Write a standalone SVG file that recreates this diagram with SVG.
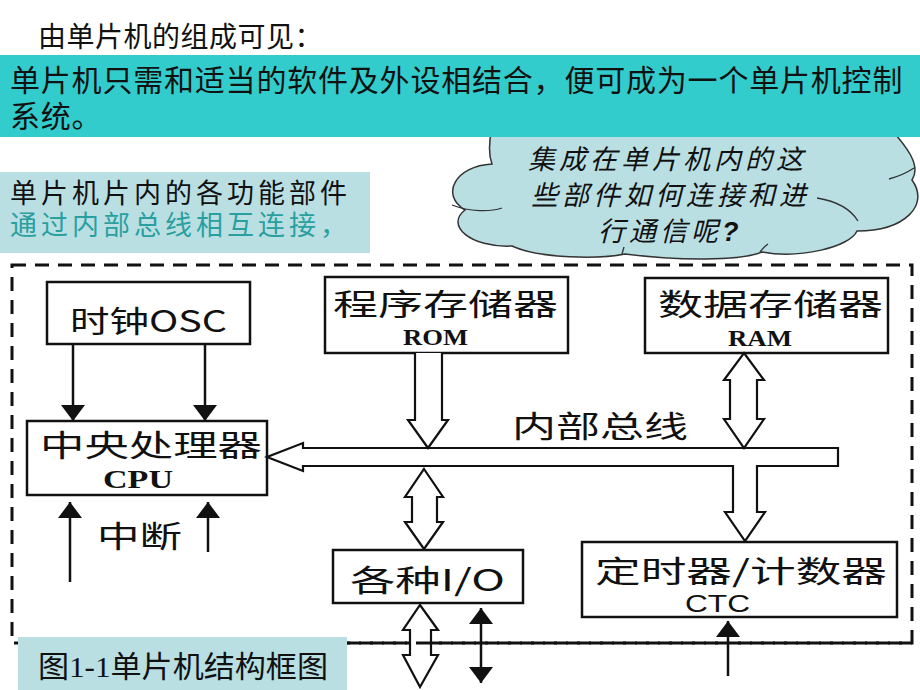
<svg xmlns="http://www.w3.org/2000/svg" width="920" height="690" viewBox="0 0 920 690">
<style>
.cn{font-family:"Noto Sans CJK SC","Noto Sans",sans-serif;fill:#111}
.lab{font-family:"Noto Sans CJK SC","Noto Sans",sans-serif;fill:#111;font-size:30px}
.ser{font-family:"Liberation Serif","Noto Sans CJK SC",serif;font-weight:bold;fill:#111}
.cap{font-family:"Liberation Serif","Noto Sans CJK SC",serif;font-weight:normal;fill:#111}
.box{fill:#fff;stroke:#111;stroke-width:2.5}
.ln{fill:none;stroke:#111;stroke-width:2.5}
.hol{fill:#fff;stroke:#111;stroke-width:2.2;stroke-linejoin:miter}
.pale{fill:#B9DFE3}
</style>
<defs>
<marker id="tri" viewBox="0 0 16 24" refX="16" refY="12" markerWidth="16" markerHeight="24" markerUnits="userSpaceOnUse" orient="auto-start-reverse">
<path d="M0,0 L16,12 L0,24 Z" fill="#111"/>
</marker>
</defs>
<rect width="920" height="690" fill="#fff"/>

<g id="cloud">
<path class="pale" stroke="#333" stroke-width="1.5" d="M492 128 C 488 146, 489 156, 492 164 C 455 166, 440 195, 465 210 C 445 225, 470 248, 512 246 C 540 259, 600 259, 625 254 C 680 261, 740 261, 762 252 C 800 259, 850 247, 857 231 C 905 231, 930 205, 912 180 C 922 165, 905 145, 890 128 Z"/>
<path fill="none" stroke="#333" stroke-width="1.3" d="M452 205 C 470 212, 490 212, 502 208 M817 198 C 835 201, 850 208, 858 221 M889 179 C 900 176, 908 172, 914 168 M622 254 L624 247 M760 252 C 763 248, 765 246, 768 244"/>
<g class="cn" font-size="27" font-style="italic" letter-spacing="4">
<text x="528" y="169">集成在单片机内的这</text>
<text x="531" y="205">些部件如何连接和进</text>
<text x="598" y="241">行通信呢<tspan font-family="Liberation Sans, sans-serif" font-weight="bold">?</tspan></text>
</g>
</g>

<g id="title">
<text class="cn" x="38" y="47" font-size="28" letter-spacing="0.5">由单片机的组成可见：</text>
</g>

<g id="banner">
<rect x="0" y="55" width="920" height="82" fill="#33CCCC"/>
<text class="cn" x="10" y="91" font-size="30" letter-spacing="0.8">单片机只需和适当的软件及外设相结合，便可成为一个单片机控制</text>
<text class="cn" x="10" y="127" font-size="30" letter-spacing="0.8">系统。</text>
</g>

<g id="note">
<rect class="pale" x="0" y="172" width="370" height="81"/>
<text class="cn" x="10" y="203" font-size="27" letter-spacing="4">单片机片内的各功能部件</text>
<text class="cn" x="10" y="235" font-size="27" letter-spacing="4" style="fill:#2A9FA0">通过内部总线相互连接，</text>
</g>

<g id="frame">
<rect x="12" y="265" width="900" height="378" fill="none" stroke="#111" stroke-width="3" stroke-dasharray="14 9"/>
</g>

<g id="osc">
<rect class="box" x="47" y="282" width="203" height="62"/>
<text class="lab" x="70" y="332" textLength="157" lengthAdjust="spacingAndGlyphs">时钟OSC</text>
</g>

<g id="cpu">
<rect class="box" x="27" y="421" width="240" height="74"/>
<text class="lab" x="40" y="456" font-size="32" textLength="222" lengthAdjust="spacingAndGlyphs">中央处理器</text>
<text class="ser" x="103" y="488" font-size="26" textLength="70" lengthAdjust="spacingAndGlyphs">CPU</text>
</g>

<g id="rom">
<rect class="box" x="325" y="277" width="243" height="76"/>
<text class="lab" x="333" y="315" font-size="32" textLength="225" lengthAdjust="spacingAndGlyphs">程序存储器</text>
<text class="ser" x="403" y="345" font-size="24" textLength="65" lengthAdjust="spacingAndGlyphs">ROM</text>
</g>

<g id="ram">
<rect class="box" x="645" y="278" width="243" height="75"/>
<text class="lab" x="658" y="315" font-size="32" textLength="225" lengthAdjust="spacingAndGlyphs">数据存储器</text>
<text class="ser" x="728" y="346" font-size="24" textLength="64" lengthAdjust="spacingAndGlyphs">RAM</text>
</g>

<g id="io">
<rect class="box" x="333" y="550" width="190" height="53"/>
<text class="lab" x="350" y="591" textLength="155" lengthAdjust="spacingAndGlyphs">各种I/O</text>
</g>

<g id="ctc">
<rect class="box" x="582" y="542" width="315" height="75"/>
<text class="lab" x="595" y="582" textLength="292" lengthAdjust="spacingAndGlyphs">定时器/计数器</text>
<text x="685" y="612" font-family="Liberation Sans, sans-serif" font-size="24" fill="#111" textLength="65" lengthAdjust="spacingAndGlyphs">CTC</text>
</g>

<g id="connectors">
<line class="ln" x1="73" y1="344" x2="73" y2="421" marker-end="url(#tri)"/>
<line class="ln" x1="205" y1="344" x2="205" y2="421" marker-end="url(#tri)"/>
<path class="hol" d="M733 466 H303 V471 L267 457 L303 443 V448 H838 V466 H757 V512 H765 L745 541 L725 512 H733 Z"/>
<path class="hol" d="M415 353 V420 H408 L428 448 L448 420 H442 V353"/>
<path class="hol" d="M744 353 L764 380 H757 V419 H764 L744 448 L724 419 H730 V380 H724 Z"/>
<path class="hol" d="M424 469 L443 497 H437 V522 H443 L424 549 L405 522 H412 V497 H405 Z"/>
<path class="hol" d="M420 605 L438 630 H431 V655 H438 L420 687 L403 655 H410 V630 H403 Z"/>
<line class="ln" x1="481" y1="608" x2="481" y2="683" marker-start="url(#tri)" marker-end="url(#tri)"/>
<line class="ln" x1="728" y1="676" x2="728" y2="621" marker-end="url(#tri)"/>
<line class="ln" x1="70" y1="582" x2="70" y2="502" marker-end="url(#tri)"/>
<line class="ln" x1="208" y1="552" x2="208" y2="502" marker-end="url(#tri)"/>
</g>

<g id="frame-bottom">
<line x1="347" y1="643" x2="912" y2="643" stroke="#111" stroke-width="3" stroke-dasharray="14 9"/>
</g>

<g id="bus-label">
<text class="lab" x="512" y="437" textLength="176" lengthAdjust="spacingAndGlyphs">内部总线</text>
</g>
<g id="irq-label">
<text class="lab" x="97" y="547" textLength="85" lengthAdjust="spacingAndGlyphs">中断</text>
</g>

<g id="caption">
<rect class="pale" x="18" y="637" width="329" height="53"/>
<text class="cap" x="38" y="677" font-size="30" textLength="290" lengthAdjust="spacingAndGlyphs">图1-1单片机结构框图</text>
</g>
</svg>
